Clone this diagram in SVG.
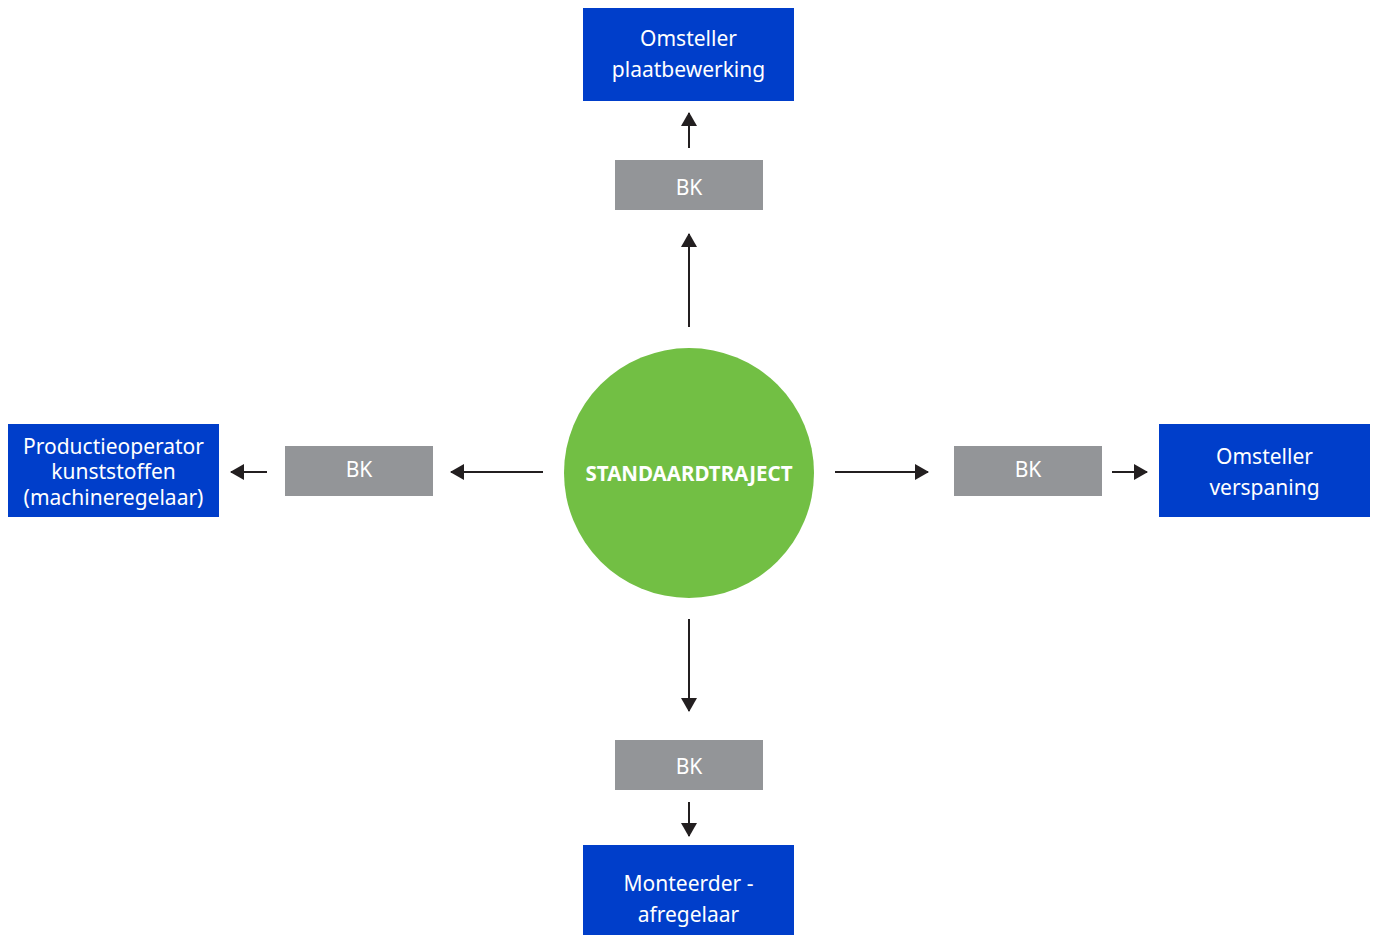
<svg xmlns="http://www.w3.org/2000/svg" width="1375" height="935" viewBox="0 0 1375 935">
<style>
.blue{fill:#003ECA}
.gray{fill:#939598}
.t{font-family:"Noto Sans","Open Sans",sans-serif;font-size:21px;fill:#ffffff;text-anchor:middle}
.c{font-family:"Noto Sans","Open Sans",sans-serif;font-size:20.5px;font-weight:bold;fill:#ffffff;text-anchor:middle}
.ln{stroke:#231F20;stroke-width:2;fill:none;marker-end:url(#ah)}
</style>
<defs>
<marker id="ah" viewBox="0 0 14 16" refX="13" refY="8" markerWidth="14" markerHeight="16" markerUnits="userSpaceOnUse" orient="auto">
<path d="M0,0 L14,8 L0,16 Z" fill="#231F20"/>
</marker>
</defs>
<rect width="1375" height="935" fill="#ffffff"/>
<g id="center">
<circle cx="689" cy="473" r="125" fill="#72BF44"/>
<text class="c" x="689" y="481">STANDAARDTRAJECT</text>
</g>
<g id="top-target">
<rect class="blue" x="583" y="8" width="211" height="93"/>
<text class="t" x="688.5" y="46">Omsteller</text>
<text class="t" x="688.5" y="77">plaatbewerking</text>
</g>
<g id="top-bk">
<rect class="gray" x="615" y="160" width="148" height="50"/>
<text class="t" x="689" y="195">BK</text>
</g>
<g id="left-target">
<rect class="blue" x="8" y="424" width="211" height="93"/>
<text class="t" x="113.5" y="454">Productieoperator</text>
<text class="t" x="113.5" y="479">kunststoffen</text>
<text class="t" x="113.5" y="505">(machineregelaar)</text>
</g>
<g id="left-bk">
<rect class="gray" x="285" y="446" width="148" height="50"/>
<text class="t" x="359" y="477">BK</text>
</g>
<g id="right-bk">
<rect class="gray" x="954" y="446" width="148" height="50"/>
<text class="t" x="1028" y="477">BK</text>
</g>
<g id="right-target">
<rect class="blue" x="1159" y="424" width="211" height="93"/>
<text class="t" x="1264.5" y="464">Omsteller</text>
<text class="t" x="1264.5" y="495">verspaning</text>
</g>
<g id="bottom-bk">
<rect class="gray" x="615" y="740" width="148" height="50"/>
<text class="t" x="689" y="774">BK</text>
</g>
<g id="bottom-target">
<rect class="blue" x="583" y="845" width="211" height="90"/>
<text class="t" x="688.5" y="891">Monteerder -</text>
<text class="t" x="688.5" y="922">afregelaar</text>
</g>
<g id="connectors">
<line class="ln" x1="689" y1="327" x2="689" y2="234"/>
<line class="ln" x1="689" y1="148" x2="689" y2="113"/>
<line class="ln" x1="543" y1="472" x2="451" y2="472"/>
<line class="ln" x1="267" y1="472" x2="231" y2="472"/>
<line class="ln" x1="835" y1="472" x2="928" y2="472"/>
<line class="ln" x1="1112" y1="472" x2="1147" y2="472"/>
<line class="ln" x1="689" y1="619" x2="689" y2="711"/>
<line class="ln" x1="689" y1="802" x2="689" y2="836"/>
</g>
</svg>
